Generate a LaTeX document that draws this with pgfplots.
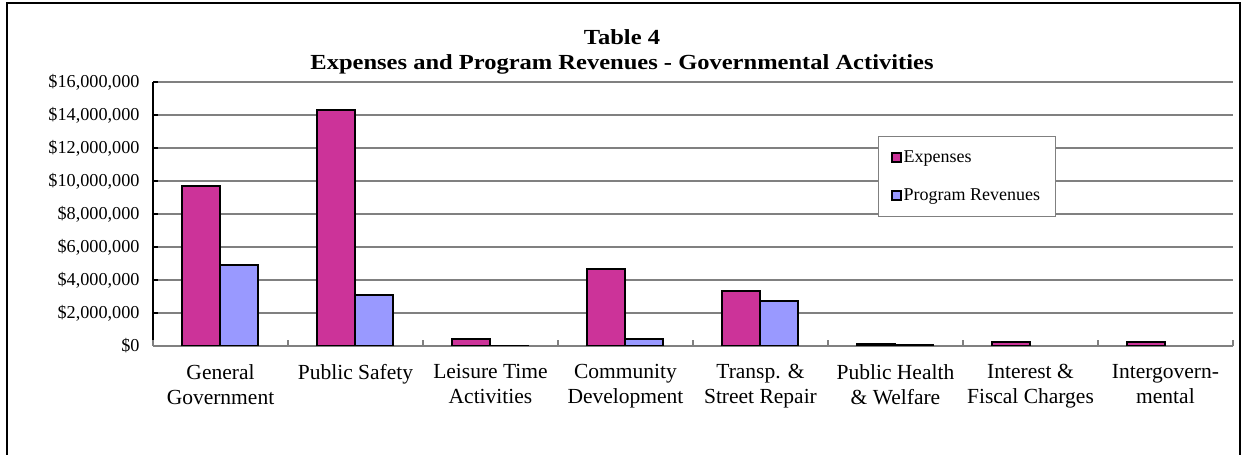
\documentclass[border=0pt]{standalone}
\usepackage{fontspec}
\setmainfont{Liberation Serif}
\newfontfamily\titlefont{Liberation Serif}[FakeStretch=1.14]
\usepackage{pgfplots}
\pgfplotsset{compat=1.18}
\definecolor{expc}{HTML}{CC3399}
\definecolor{revc}{HTML}{9999FF}
\definecolor{gridc}{HTML}{808080}
\begin{document}
\begin{tikzpicture}[x=1pt,y=1pt]
\useasboundingbox (0,0) rectangle (1243,455);
\draw[line width=2.6pt] (7,-10) -- (7,452) -- (1240,452) -- (1240,-10);
\node[font=\titlefont\bfseries\fontsize{21.5}{27}\selectfont, align=center, anchor=base] at (622,410) {Table 4};
\node[font=\titlefont\bfseries\fontsize{21.5}{27}\selectfont, align=center, anchor=base] at (622,385) {Expenses and Program Revenues - Governmental Activities};
\begin{axis}[
  at={(153pt,109pt)}, anchor=south west,
  scale only axis, width=1080pt, height=264pt,
  ybar=0pt, bar width=38pt,
  xmin=-0.5, xmax=7.5, ymin=0, ymax=16000000,
  scaled y ticks=false,
  axis lines*=left,
  x axis line style={gridc, line width=1.5pt},
  y axis line style={black, line width=1.5pt},
  ymajorgrids, grid style={gridc, line width=1.3pt},
  tick align=inside,
  xtick={0,...,7},
  xticklabels={General\\Government, Public Safety, Leisure Time\\Activities, Community\\Development, Transp. \&\\Street Repair, Public Health\\\& Welfare, Interest \&\\Fiscal Charges, Intergovern-\\mental},
  x tick label style={align=center, font=\fontsize{21.5}{25}\selectfont, yshift=-15pt},
  xtick style={draw=none},
  extra x ticks={-0.5,0.5,1.5,2.5,3.5,4.5,5.5,6.5,7.5},
  extra x tick labels={},
  extra x tick style={xtick style={draw=gridc, line width=1.2pt}, major tick length=6pt, grid=none},
  ytick={0,2000000,4000000,6000000,8000000,10000000,12000000,14000000,16000000},
  yticklabels={{\$0},{\$2,000,000},{\$4,000,000},{\$6,000,000},{\$8,000,000},{\$10,000,000},{\$12,000,000},{\$14,000,000},{\$16,000,000}},
  y tick label style={font=\fontsize{18.2}{20}\selectfont, xshift=-10pt},
  ytick style={black, line width=1.2pt},
  major tick length=5pt,
  legend style={at={(0.671,0.795)}, anchor=north west, draw=gridc, line width=1pt, fill=white,
     font=\fontsize{18}{20}\selectfont, inner xsep=13pt, inner ysep=12pt, row sep=21pt,
     legend cell align=left},
  legend image code/.code={\draw[#1, draw=black, line width=1.5pt] (0pt,-4.5pt) rectangle (9pt,4.5pt);},
]
\addplot[fill=expc, draw=black, line width=2pt] coordinates {
 (0,9710000) (1,14300000) (2,400000) (3,4680000) (4,3320000) (5,120000) (6,250000) (7,260000)};
\addplot[fill=revc, draw=black, line width=2pt] coordinates {
 (0,4910000) (1,3100000) (2,30000) (3,400000) (4,2740000) (5,50000)};
\legend{Expenses, Program Revenues}
\end{axis}
\end{tikzpicture}
\end{document}
